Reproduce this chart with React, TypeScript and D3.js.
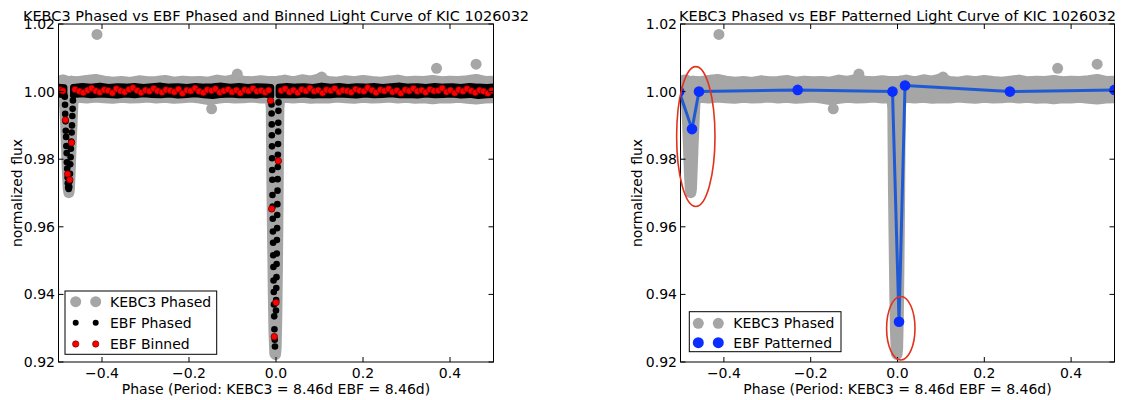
import React from "react";
import * as d3 from "d3";

// ---------------- DATA ----------------
const xTicks = [-0.4, -0.2, 0.0, 0.2, 0.4];
const xTickLabels = ["\u22120.4", "\u22120.2", "0.0", "0.2", "0.4"];
const yTicks = [0.92, 0.94, 0.96, 0.98, 1.0, 1.02];
const yTickLabels = ["0.92", "0.94", "0.96", "0.98", "1.00", "1.02"];

// KEBC3 phased: dense band of points, [phase, lowest flux, highest flux]
const kebcBand: number[][] = [
  [-0.5, 0.9983, 1.003], [-0.492, 0.9982, 1.0034], [-0.4875, 0.9975, 1.0034],
  [-0.4855, 0.995, 1.0033], [-0.4835, 0.99, 1.0032], [-0.4815, 0.983, 1.0031],
  [-0.4795, 0.976, 1.003], [-0.4775, 0.9712, 1.003], [-0.4762, 0.9701, 1.003],
  [-0.4748, 0.9713, 1.0029], [-0.473, 0.977, 1.003], [-0.471, 0.984, 1.0031],
  [-0.469, 0.99, 1.003], [-0.467, 0.996, 1.0029], [-0.465, 0.9983, 1.003],
  [-0.455, 0.9983, 1.0029], [-0.435, 0.9981, 1.0033], [-0.415, 0.9984, 1.0036],
  [-0.395, 0.9982, 1.0031], [-0.375, 0.998, 1.0028], [-0.355, 0.9983, 1.003],
  [-0.335, 0.9981, 1.0027], [-0.315, 0.9982, 1.0032], [-0.295, 0.9984, 1.0029],
  [-0.275, 0.9981, 1.003], [-0.255, 0.9983, 1.0033], [-0.235, 0.998, 1.0028],
  [-0.215, 0.9982, 1.0031], [-0.195, 0.9984, 1.0029], [-0.175, 0.9981, 1.003],
  [-0.155, 0.9976, 1.0028], [-0.135, 0.998, 1.0034], [-0.115, 0.9983, 1.003],
  [-0.095, 0.9981, 1.0036], [-0.075, 0.9982, 1.0031], [-0.055, 0.9984, 1.0029],
  [-0.035, 0.9981, 1.0032], [-0.02, 0.9982, 1.003], [-0.0125, 0.9978, 1.003],
  [-0.0108, 0.995, 1.003], [-0.0102, 0.985, 1.003], [-0.0092, 0.97, 1.003],
  [-0.0077, 0.955, 1.003], [-0.0062, 0.94, 1.003], [-0.0047, 0.929, 1.003],
  [-0.0027, 0.9225, 1.003], [-0.0012, 0.9222, 1.003], [0.0003, 0.924, 1.003],
  [0.0018, 0.933, 1.003], [0.0033, 0.948, 1.003], [0.0046, 0.965, 1.003],
  [0.0056, 0.982, 1.003], [0.0066, 0.995, 1.0031], [0.0085, 0.9979, 1.0031],
  [0.02, 0.9983, 1.0034], [0.04, 0.9981, 1.0029], [0.06, 0.9983, 1.0035],
  [0.08, 0.998, 1.0031], [0.1, 0.9982, 1.0038], [0.12, 0.9981, 1.003],
  [0.14, 0.9984, 1.0028], [0.16, 0.9982, 1.0032], [0.18, 0.998, 1.0029],
  [0.2, 0.9983, 1.0033], [0.22, 0.9981, 1.003], [0.24, 0.9982, 1.0028],
  [0.26, 0.9984, 1.0031], [0.28, 0.9981, 1.0034], [0.3, 0.9983, 1.0029],
  [0.32, 0.998, 1.0031], [0.34, 0.9982, 1.003], [0.36, 0.9979, 1.0033],
  [0.38, 0.9982, 1.0029], [0.4, 0.9981, 1.0031], [0.42, 0.9983, 1.003],
  [0.44, 0.998, 1.0032], [0.46, 0.9978, 1.0036], [0.48, 0.9981, 1.003],
  [0.5, 0.9982, 1.0031],
];
// KEBC3 isolated points
const kebcOutliers: number[][] = [
  [-0.4115, 1.0169], [-0.089, 1.0052], [-0.148, 0.9949], [0.105, 1.0043],
  [0.369, 1.0069], [0.46, 1.0081],
];

// EBF phased: dense flat band [phase, low, high] (null = gap at eclipses)
const ebfBand: (number[] | null)[] = [
  [-0.5, 0.9992, 1.0014], [-0.487, 0.999, 1.0012], null,
  [-0.466, 0.9991, 1.0013], [-0.445, 0.9993, 1.0016], [-0.425, 0.999, 1.0014],
  [-0.405, 0.9992, 1.0017], [-0.385, 0.9991, 1.0013], [-0.365, 0.9989, 1.0015],
  [-0.345, 0.9992, 1.0014], [-0.325, 0.999, 1.0016], [-0.305, 0.9993, 1.0013],
  [-0.285, 0.9991, 1.0015], [-0.265, 0.999, 1.0017], [-0.245, 0.9992, 1.0014],
  [-0.225, 0.9989, 1.0015], [-0.205, 0.9991, 1.0013], [-0.185, 0.9993, 1.0016],
  [-0.165, 0.999, 1.0014], [-0.145, 0.9988, 1.0015], [-0.125, 0.9991, 1.0017],
  [-0.105, 0.9992, 1.0014], [-0.085, 0.999, 1.0016], [-0.065, 0.9991, 1.0013],
  [-0.045, 0.9989, 1.0015], [-0.025, 0.9992, 1.0014], [-0.0115, 0.9988, 1.0013],
  null,
  [0.0065, 0.9989, 1.0014], [0.025, 0.9991, 1.0016], [0.045, 0.999, 1.0014],
  [0.065, 0.9992, 1.0015], [0.085, 0.9989, 1.0013], [0.105, 0.9991, 1.0017],
  [0.125, 0.999, 1.0014], [0.145, 0.9992, 1.0016], [0.165, 0.9991, 1.0013],
  [0.185, 0.9989, 1.0015], [0.205, 0.9992, 1.0014], [0.225, 0.999, 1.0016],
  [0.245, 0.9991, 1.0013], [0.265, 0.9993, 1.0015], [0.285, 0.999, 1.0017],
  [0.305, 0.9991, 1.0014], [0.325, 0.9989, 1.0015], [0.345, 0.9992, 1.0013],
  [0.365, 0.999, 1.0016], [0.385, 0.9991, 1.0014], [0.405, 0.9992, 1.0015],
  [0.425, 0.9989, 1.0013], [0.445, 0.9991, 1.0016], [0.465, 0.9988, 1.0014],
  [0.485, 0.999, 1.0013], [0.5, 0.9991, 1.0014],
];
// EBF phased: individual points inside the eclipses
const ebfDip: number[][] = [
  [-0.4855, 0.9985], [-0.485, 0.9961], [-0.4846, 0.9934], [-0.4838, 0.9912],
  [-0.4833, 0.9884], [-0.4825, 0.9866], [-0.482, 0.9839], [-0.4812, 0.9818],
  [-0.4808, 0.9791], [-0.48, 0.9772], [-0.4791, 0.9746], [-0.4786, 0.9729],
  [-0.4778, 0.9716], [-0.4765, 0.9712], [-0.4752, 0.9718], [-0.4745, 0.9735],
  [-0.4736, 0.9757], [-0.473, 0.9785], [-0.4721, 0.9806], [-0.4715, 0.9831],
  [-0.4707, 0.9852], [-0.4698, 0.9879], [-0.469, 0.99], [-0.4682, 0.9928],
  [-0.4675, 0.9949], [-0.4668, 0.9974], [-0.4662, 0.999],
  [-0.0103, 0.9962], [-0.0101, 0.9935], [-0.0098, 0.9903], [-0.0095, 0.9871],
  [-0.0092, 0.9838], [-0.009, 0.9803], [-0.0087, 0.9768], [-0.0084, 0.9739],
  [-0.0081, 0.9694], [-0.0077, 0.966], [-0.0074, 0.9624], [-0.0071, 0.9586],
  [-0.0067, 0.9553], [-0.0063, 0.9516], [-0.006, 0.9481], [-0.0056, 0.9441],
  [-0.0051, 0.9407], [-0.0046, 0.937], [-0.0041, 0.9335], [-0.0036, 0.9297],
  [-0.003, 0.9266], [-0.0024, 0.9246],
  [0.0058, 0.9968], [0.0055, 0.9943], [0.0052, 0.9908], [0.005, 0.9882],
  [0.0047, 0.9845], [0.0044, 0.9813], [0.0041, 0.9777], [0.0038, 0.9741],
  [0.0035, 0.9707], [0.0031, 0.9667], [0.0028, 0.9635], [0.0025, 0.9596],
  [0.0021, 0.9561], [0.0018, 0.9521], [0.0014, 0.949], [0.0011, 0.9451],
  [0.0007, 0.9419], [0.0003, 0.9383], [-0.0001, 0.9352],
];

// EBF binned
const binPhase = [
  -0.496, -0.49, -0.484, -0.479, -0.474, -0.47,
  -0.462, -0.452, -0.443, -0.433, -0.424, -0.414, -0.405, -0.395, -0.386, -0.376,
  -0.367, -0.357, -0.348, -0.338, -0.329, -0.319, -0.31, -0.3, -0.291, -0.281,
  -0.272, -0.262, -0.253, -0.243, -0.234, -0.224, -0.215, -0.205, -0.196, -0.186,
  -0.177, -0.167, -0.158, -0.148, -0.139, -0.129, -0.12, -0.11, -0.101, -0.091,
  -0.082, -0.072, -0.063, -0.053, -0.044, -0.034, -0.025, -0.017,
  -0.0125, -0.0099, -0.004, 0.0, 0.0053,
  0.012, 0.021, 0.031, 0.04, 0.05, 0.059, 0.069, 0.078, 0.088, 0.097,
  0.107, 0.116, 0.126, 0.135, 0.145, 0.154, 0.164, 0.173, 0.183, 0.192,
  0.202, 0.211, 0.221, 0.23, 0.24, 0.249, 0.259, 0.268, 0.278, 0.287,
  0.297, 0.306, 0.316, 0.325, 0.335, 0.344, 0.354, 0.363, 0.373, 0.382,
  0.392, 0.401, 0.411, 0.42, 0.43, 0.439, 0.449, 0.458, 0.468, 0.477,
  0.487, 0.496,
];
const binFlux = [
  1.0005, 1.0002, 0.9916, 0.9756, 0.9739, 0.9849,
  1.0006, 1.0001, 0.9997, 1.0004, 1.001, 1.0002, 0.9998, 1.0005, 1.0003, 0.9996,
  1.0008, 1.0002, 0.9999, 1.0006, 1.0011, 1.0003, 0.9997, 1.0004, 1.0001, 1.0009,
  1.0002, 0.9998, 1.0005, 1.0003, 0.9999, 1.0007, 0.9995, 1.0004, 1.0002, 1.001,
  1.0001, 0.9997, 1.0005, 1.0003, 1.0008, 0.9998, 1.0002, 1.0006, 0.9999, 1.0004,
  0.9996, 1.0005, 1.0002, 1.0009, 1.0001, 1.0003, 0.9998, 1.0004,
  0.9973, 0.9653, 0.9275, 0.9376, 0.9795,
  1.0003, 1.0008, 0.9999, 1.0004, 0.9997, 1.0006, 1.0002, 1.001, 1.0001, 1.0004,
  0.9996, 1.0005, 1.0003, 1.0009, 0.9999, 1.0004, 1.0002, 0.9998, 1.0007, 1.0003,
  1.0001, 1.0011, 1.0004, 0.9997, 1.0005, 1.0002, 1.0008, 0.9999, 1.0003, 0.9995,
  1.0005, 1.0002, 1.0009, 1.0001, 1.0004, 0.9998, 1.0006, 1.0002, 1.0003, 1.001,
  0.9999, 1.0004, 0.9996, 1.0005, 1.0001, 1.0008, 1.0002, 0.9997, 1.0004, 1.0001,
  0.9995, 1.0003,
];

// EBF patterned (right panel)
const patPhase = [-0.503, -0.4735, -0.4574, -0.23, -0.0115, 0.0035, 0.0173, 0.259, 0.5];
const patFlux = [1.0, 0.9889, 1.0, 1.0005, 1.0, 0.9319, 1.0018, 1.0, 1.0005];

// annotation ellipses: [phase, flux, phase radius, flux radius]
const marks = [
  [-0.4647, 0.9867, 0.0442, 0.0207],
  [0.0076, 0.93, 0.0327, 0.0094],
];

// ---------------- LAYOUT ----------------
const W = 1124;
const H = 400;
const TOP = 24;
const BOTTOM = 362;
const FONT = "'DejaVu Sans', sans-serif";
const GRAY = "#a6a6a6";

type Scale = d3.ScaleLinear<number, number>;
type AxesProps = {
  x0: number;
  x1: number;
  id: string;
  title: string;
  ylabelX: number;
  children: (x: Scale, y: Scale) => React.ReactNode;
  overlay?: (x: Scale, y: Scale) => React.ReactNode;
  legend: React.ReactNode;
};

function Axes({ x0, x1, id, title, ylabelX, children, overlay, legend }: AxesProps) {
  const x = d3.scaleLinear().domain([-0.5, 0.5]).range([x0, x1]);
  const y = d3.scaleLinear().domain([0.92, 1.02]).range([BOTTOM, TOP]);
  const cx = (x0 + x1) / 2;
  const cy = (TOP + BOTTOM) / 2;
  const tl = 5;
  return (
    <g>
      <defs>
        <clipPath id={id}>
          <rect x={x0} y={TOP} width={x1 - x0} height={BOTTOM - TOP} />
        </clipPath>
      </defs>
      <g clipPath={`url(#${id})`}>{children(x, y)}</g>
      {legend}
      <rect x={x0} y={TOP} width={x1 - x0} height={BOTTOM - TOP} fill="none" stroke="#000" strokeWidth={1} />
      {xTicks.map((t, i) => (
        <g key={"xt" + i}>
          <line x1={x(t)} x2={x(t)} y1={BOTTOM} y2={BOTTOM - tl} stroke="#000" />
          <line x1={x(t)} x2={x(t)} y1={TOP} y2={TOP + tl} stroke="#000" />
          <text x={x(t)} y={BOTTOM + 16} textAnchor="middle" fontSize={14} fontFamily={FONT}>
            {xTickLabels[i]}
          </text>
        </g>
      ))}
      {yTicks.map((t, i) => (
        <g key={"yt" + i}>
          <line x1={x0} x2={x0 + tl} y1={y(t)} y2={y(t)} stroke="#000" />
          <line x1={x1} x2={x1 - tl} y1={y(t)} y2={y(t)} stroke="#000" />
          <text x={x0 - 3.5} y={y(t)} dy="0.36em" textAnchor="end" fontSize={14} fontFamily={FONT}>
            {yTickLabels[i]}
          </text>
        </g>
      ))}
      {overlay ? overlay(x, y) : null}
      <text x={cx} y={20.5} textAnchor="middle" fontSize={14.5} fontFamily={FONT}>
        {title}
      </text>
      <text x={cx} y={394} textAnchor="middle" fontSize={14} fontFamily={FONT}>
        Phase (Period: KEBC3 = 8.46d EBF = 8.46d)
      </text>
      <text
        transform={`translate(${ylabelX},${cy}) rotate(-90)`}
        textAnchor="middle"
        fontSize={14}
        fontFamily={FONT}
      >
        normalized flux
      </text>
    </g>
  );
}

function kebcLayer(x: Scale, y: Scale) {
  const area = d3
    .area<number[]>()
    .x((d) => x(d[0]))
    .y0((d) => y(d[1]))
    .y1((d) => y(d[2]));
  return (
    <g>
      <path d={area(kebcBand) || ""} fill={GRAY} stroke={GRAY} strokeWidth={11} strokeLinejoin="round" />
      {kebcOutliers.map((p, i) => (
        <circle key={"ko" + i} cx={x(p[0])} cy={y(p[1])} r={5.5} fill={GRAY} />
      ))}
    </g>
  );
}

export default function App() {
  const leftX0 = 58.5;
  const leftX1 = 493.5;
  const rightX0 = 680.5;
  const rightX1 = 1114.5;

  const leftLegend = (
    <g fontFamily={FONT} fontSize={14}>
      <rect x={65} y={291} width={151.7} height={63.3} fill="#fff" stroke="#000" strokeWidth={1} />
      <circle cx={75.7} cy={301.7} r={5.5} fill={GRAY} />
      <circle cx={95.7} cy={301.7} r={5.5} fill={GRAY} />
      <text x={110} y={301.7} dy="0.36em">KEBC3 Phased</text>
      <circle cx={75.7} cy={322.7} r={3} fill="#000" />
      <circle cx={95.7} cy={322.7} r={3} fill="#000" />
      <text x={110} y={322.7} dy="0.36em">EBF Phased</text>
      <circle cx={75.7} cy={344} r={3.2} fill="#ff0000" stroke="#500" strokeWidth={0.6} />
      <circle cx={95.7} cy={344} r={3.2} fill="#ff0000" stroke="#500" strokeWidth={0.6} />
      <text x={110} y={344} dy="0.36em">EBF Binned</text>
    </g>
  );

  const rightLegend = (
    <g fontFamily={FONT} fontSize={14}>
      <rect x={689.3} y={311.7} width={151.7} height={40} fill="#fff" stroke="#000" strokeWidth={1} />
      <circle cx={698.3} cy={323.3} r={5.5} fill={GRAY} />
      <circle cx={718.3} cy={323.3} r={5.5} fill={GRAY} />
      <text x={733.3} y={323.3} dy="0.36em">KEBC3 Phased</text>
      <circle cx={698.3} cy={342.7} r={5.5} fill="#0a2eff" />
      <circle cx={718.3} cy={342.7} r={5.5} fill="#0a2eff" />
      <text x={733.3} y={342.7} dy="0.36em">EBF Patterned</text>
    </g>
  );

  return (
    <svg
      width={W}
      height={H}
      viewBox={`0 0 ${W} ${H}`}
      style={{ position: "absolute", left: 0, top: 0, background: "#fff", display: "block" }}
    >
      <rect x={0} y={0} width={W} height={H} fill="#fff" />
      <Axes
        x0={leftX0}
        x1={leftX1}
        id="clipLeft"
        title="KEBC3 Phased vs EBF Phased and Binned Light Curve of KIC 1026032"
        ylabelX={22}
        legend={leftLegend}
      >
        {(x, y) => {
          const band = d3
            .area<number[] | null>()
            .defined((d) => d != null)
            .x((d) => x((d as number[])[0]))
            .y0((d) => y((d as number[])[1]))
            .y1((d) => y((d as number[])[2]));
          return (
            <g>
              {kebcLayer(x, y)}
              <path d={band(ebfBand) || ""} fill="#000" stroke="#000" strokeWidth={6.5} strokeLinejoin="round" />
              {ebfDip.map((p, i) => (
                <circle key={"bd" + i} cx={x(p[0])} cy={y(p[1])} r={3.3} fill="#000" />
              ))}
              {binPhase.map((p, i) => (
                <circle
                  key={"rb" + i}
                  cx={x(p)}
                  cy={y(binFlux[i])}
                  r={3.3}
                  fill="#ff0000"
                  stroke="#400"
                  strokeWidth={0.6}
                />
              ))}
            </g>
          );
        }}
      </Axes>
      <Axes
        x0={rightX0}
        x1={rightX1}
        id="clipRight"
        title="KEBC3 Phased vs EBF Patterned Light Curve of KIC 1026032"
        ylabelX={642}
        legend={rightLegend}
        overlay={(x, y) => (
          <g>
            {marks.map((m, i) => (
              <ellipse
                key={"el" + i}
                cx={x(m[0])}
                cy={y(m[1])}
                rx={x(m[0] + m[2]) - x(m[0])}
                ry={y(m[1] - m[3]) - y(m[1])}
                fill="none"
                stroke="#e3321c"
                strokeWidth={1.6}
              />
            ))}
          </g>
        )}
      >
        {(x, y) => {
          const line = d3
            .line<number>()
            .x((p) => x(p))
            .y((_, i) => y(patFlux[i]));
          return (
            <g>
              {kebcLayer(x, y)}
              <path d={line(patPhase) || ""} fill="none" stroke="#1f5ad4" strokeWidth={3} strokeLinejoin="round" />
              {patPhase.map((p, i) => (
                <circle key={"bp" + i} cx={x(p)} cy={y(patFlux[i])} r={5.3} fill="#0a2eff" />
              ))}
            </g>
          );
        }}
      </Axes>
    </svg>
  );
}
